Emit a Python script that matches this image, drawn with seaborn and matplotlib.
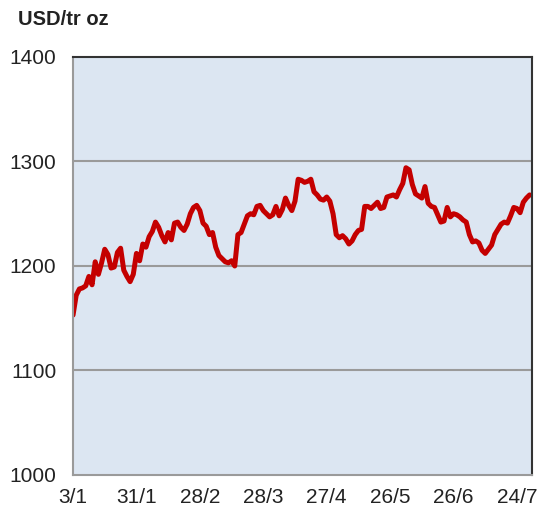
import pandas as pd
import numpy as np
import matplotlib
matplotlib.use('Agg')
import matplotlib.pyplot as plt
import seaborn as sns

# gold price, USD per troy ounce, one value per trading day (3 Jan - end of July)
prices = [1153, 1172, 1178, 1179, 1181, 1190, 1182, 1204, 1192, 1203,
          1216, 1211, 1198, 1199, 1213, 1217, 1196, 1190, 1185, 1192,
          1212, 1205, 1221, 1218, 1228, 1233, 1242, 1237, 1229, 1223,
          1232, 1225, 1241, 1242, 1237, 1234, 1240, 1250, 1256, 1258,
          1253, 1241, 1238, 1230, 1232, 1218, 1210, 1207, 1204, 1203,
          1205, 1200, 1230, 1232, 1240, 1248, 1250, 1249, 1257, 1258,
          1253, 1250, 1247, 1249, 1257, 1248, 1254, 1265, 1258, 1253,
          1262, 1283, 1282, 1280, 1281, 1283, 1271, 1268, 1264, 1263,
          1266, 1262, 1250, 1230, 1227, 1229, 1226, 1221, 1224, 1230,
          1234, 1235, 1257, 1257, 1255, 1258, 1261, 1255, 1256, 1266,
          1267, 1268, 1266, 1273, 1279, 1294, 1292, 1278, 1269, 1267,
          1265, 1276, 1260, 1257, 1256, 1249, 1242, 1243, 1256, 1247,
          1250, 1249, 1247, 1244, 1242, 1230, 1223, 1224, 1222, 1215,
          1212, 1216, 1220, 1230, 1235, 1240, 1242, 1241, 1248, 1256,
          1255, 1251, 1261, 1265, 1268]

# x tick labels, every 20 trading days
tick_days = [0, 20, 40, 60, 80, 100, 120, 140]
tick_labels = ['3/1', '31/1', '28/2', '28/3', '27/4', '26/5', '26/6', '24/7']
y_ticks = [1000, 1100, 1200, 1300, 1400]

df = pd.DataFrame({'day': range(len(prices)), 'price': prices})

sns.set_style('white')
plt.rcParams['font.family'] = ['Liberation Sans', 'DejaVu Sans']

fig = plt.figure(figsize=(5.37, 5.11), dpi=100)
ax = fig.add_axes([0.136, 0.0705, 0.855, 0.818])
ax.set_facecolor('#dce6f2')

ax = sns.lineplot(data=df, x='day', y='price', color='#c40000', linewidth=3.6, ax=ax)

ax.set_xlim(0, 144.8)
ax.set_ylim(1000, 1400)
ax.set_xticks(tick_days)
ax.set_xticklabels(tick_labels)
ax.set_yticks(y_ticks)
ax.set_xlabel('')
ax.set_ylabel('')

# horizontal grid lines only
for v in y_ticks[1:-1]:
    ax.axhline(v, color='#9a9a9a', linewidth=1.5, zorder=0.5)

for side in ['left', 'bottom']:
    ax.spines[side].set_color('#9a9a9a')
    ax.spines[side].set_linewidth(1.5)
for side in ['top', 'right']:
    ax.spines[side].set_visible(True)
    ax.spines[side].set_color('#333333')
    ax.spines[side].set_linewidth(1.5)

ax.tick_params(axis='x', direction='inout', length=9, width=1.5, color='#9a9a9a',
               labelsize=15, labelcolor='#222222', pad=5)
ax.tick_params(axis='y', direction='out', length=6, width=1.5, color='#9a9a9a',
               labelsize=15, labelcolor='#222222', pad=6)

fig.text(0.034, 0.961, 'USD/tr oz', fontsize=14.5, fontweight='bold',
         color='#222222', va='center', ha='left')

plt.savefig('out.png', dpi=100)
